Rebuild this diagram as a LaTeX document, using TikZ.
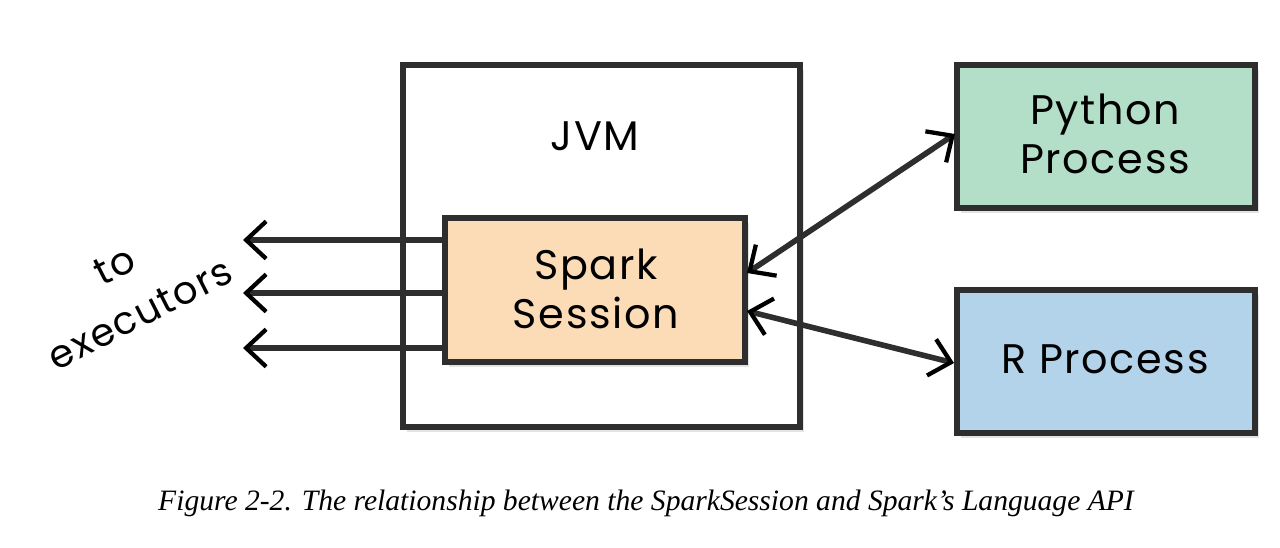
\documentclass[tikz,border=0pt]{standalone}
\usepackage{fontspec}
\setmainfont{Liberation Serif}
\newfontfamily\handfont[LetterSpace=4]{Poppins}
\usetikzlibrary{arrows.meta,shadows}
\definecolor{edge}{HTML}{2E2E2E}
\definecolor{sparkfill}{HTML}{FBDCB7}
\definecolor{pyfill}{HTML}{B3DFC8}
\definecolor{rfill}{HTML}{B3D3EA}
\tikzset{
  px/.style={x=0.75pt,y=-0.75pt},
  boxstyle/.style={draw=edge, line width=5.2pt, rectangle, inner sep=0pt,
    drop shadow={opacity=0.22, shadow xshift=3pt, shadow yshift=-4pt}},
  lbl/.style={font=\handfont\fontsize{31}{37}\selectfont, text=black, align=center},
  execlbl/.style={font=\handfont\fontsize{29}{30}\selectfont, text=black, rotate=27, inner sep=0pt},
  conn/.style={draw=edge, line width=4.2pt},
  mytip/.tip={Straight Barb[length=15pt, width=28pt, line width=3.2pt, color=black]}
}
\begin{document}
\begin{tikzpicture}[px]
\useasboundingbox (0,0) rectangle (1280,547);
\fill[white] (0,0) rectangle (1280,547);
% boxes
\node[boxstyle, fill=white, minimum width=397*0.75pt, minimum height=362*0.75pt] (jvm) at (601.5,246) {};
\node[boxstyle, fill=sparkfill, minimum width=300*0.75pt, minimum height=144*0.75pt] (spark) at (595,290) {};
\node[boxstyle, fill=pyfill, minimum width=298*0.75pt, minimum height=143*0.75pt] (py) at (1106,136.5) {};
\node[boxstyle, fill=rfill, minimum width=298*0.75pt, minimum height=143*0.75pt] (r) at (1106,361.5) {};
% texts
\node[lbl] (jvmt) at (595,136) {JVM};
\node[lbl] (sparkt) at (596,289) {Spark\\Session};
\node[lbl] (pyt) at (1105,134) {Python\\Process};
\node[lbl] (rt) at (1105,359) {R Process};
% executor coordinates
\coordinate (e1) at (243,240);
\coordinate (e2) at (243,293);
\coordinate (e3) at (243,348);
\draw[conn, -{mytip}] (spark.west |- e1) -- (e1);
\draw[conn, -{mytip}] (spark.west |- e2) -- (e2);
\draw[conn, -{mytip}] (spark.west |- e3) -- (e3);
% language connectors
\coordinate (s1) at (747,273);
\coordinate (s2) at (747,311);
\coordinate (p1) at (955,134);
\coordinate (r1) at (954,363);
\draw[conn, {mytip}-{mytip}] (s1) -- (p1);
\draw[conn, {mytip}-{mytip}] (s2) -- (r1);
% label
\node[execlbl] (exec1) at (115,266) {to};
\node[execlbl] (exec2) at (140,314) {executors};
% caption
\node[font=\itshape\fontsize{22.2}{25}\selectfont] (cap) at (646,503) {Figure 2-2. The relationship between the SparkSession and Spark’s Language API};
\end{tikzpicture}
\end{document}
